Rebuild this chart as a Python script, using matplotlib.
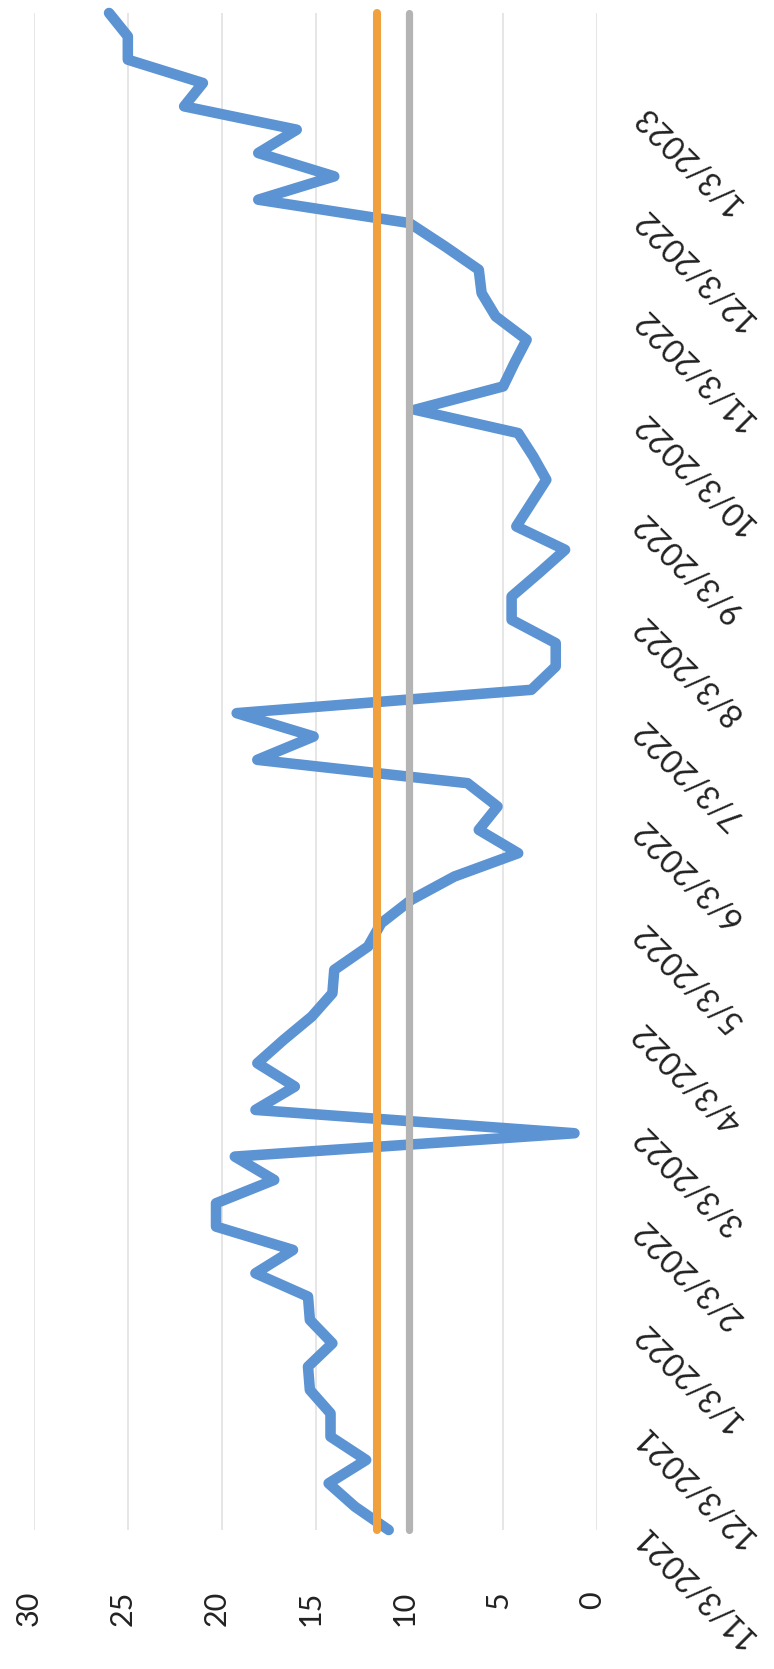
import datetime as dt
import matplotlib
matplotlib.use("Agg")
import matplotlib.pyplot as plt
import matplotlib.dates as mdates
from matplotlib.transforms import ScaledTranslation

# Weekly readings, starting 3 Nov 2021
start = dt.date(2021, 11, 3)
values = [
    11.1, 12.9, 14.3, 12.3, 14.2, 14.2, 15.3, 15.4, 14.1, 15.3,
    15.4, 18.2, 16.2, 20.3, 20.3, 17.2, 19.3, 1.2, 18.2, 16.1,
    18.1, 16.7, 15.2, 14.1, 14.0, 12.2, 11.5, 9.9, 7.6, 4.2,
    6.3, 5.3, 6.9, 18.1, 15.1, 19.2, 3.5, 2.2, 2.2, 4.55,
    4.55, 3.1, 1.7, 4.3, 3.5, 2.7, 3.4, 4.2, 9.7, 5.0,
    4.4, 3.75, 5.4, 6.15, 6.3, 8.1, 10.0, 18.05, 14.0, 18.05,
    16.0, 22.0, 21.0, 25.0, 25.0, 26.0,
]
dates = [start + dt.timedelta(weeks=i) for i in range(len(values))]
average_level = [11.7] * len(values)
target_level = [10.0] * len(values)

value_ticks = [0, 5, 10, 15, 20, 25, 30]
tick_dates = [dt.date(2021 + (10 + k) // 12, (10 + k) % 12 + 1, 3) for k in range(15)]
tick_labels = [f"{d.month}/{d.day}/{d.year}" for d in tick_dates]

BLUE = "#5b93d3"
ORANGE = "#f0a03c"
GREY = "#b4b4b4"
FONT = "Lato"

W, H = 774, 1669
fig = plt.figure(figsize=(W / 100, H / 100), dpi=100)
left, right, top, bottom = 34, 597, 13, 1530
ax = fig.add_axes([left / W, 1 - bottom / H, (right - left) / W, (bottom - top) / H])

# the chart is laid on its side: values run right-to-left, dates run upward
ax.plot(values, dates, color=BLUE, lw=7.6, solid_capstyle="round",
        solid_joinstyle="round", zorder=3, clip_on=False)
ax.plot(average_level, dates, color=ORANGE, lw=5.8, solid_capstyle="round",
        zorder=4, clip_on=False)
ax.plot(target_level, dates, color=GREY, lw=5.2, solid_capstyle="round",
        zorder=5, clip_on=False)

ax.set_xlim(30, 0)
ax.set_ylim(mdates.date2num(dates[0]), mdates.date2num(dates[-1]))

ax.set_xticks(value_ticks)
ax.set_xticklabels([str(v) for v in value_ticks], rotation=90, fontsize=22,
                   family=FONT, color="#222222")
ax.tick_params(axis="x", length=0, pad=44)
shift = ScaledTranslation(-5 / 100, 0, fig.dpi_scale_trans)
for lbl in ax.get_xticklabels():
    lbl.set_transform(lbl.get_transform() + shift)

ax.yaxis.tick_right()
ax.set_yticks(mdates.date2num(tick_dates))
ax.set_yticklabels(tick_labels, fontsize=23, family=FONT, color="#222222",
                   rotation=135, rotation_mode="anchor", ha="right", va="center")
ax.tick_params(axis="y", length=0, pad=30)

ax.grid(axis="x", color="#e2e2e2", lw=1.2, zorder=0)
for s in ax.spines.values():
    s.set_visible(False)

fig.savefig("out.png", dpi=100)
